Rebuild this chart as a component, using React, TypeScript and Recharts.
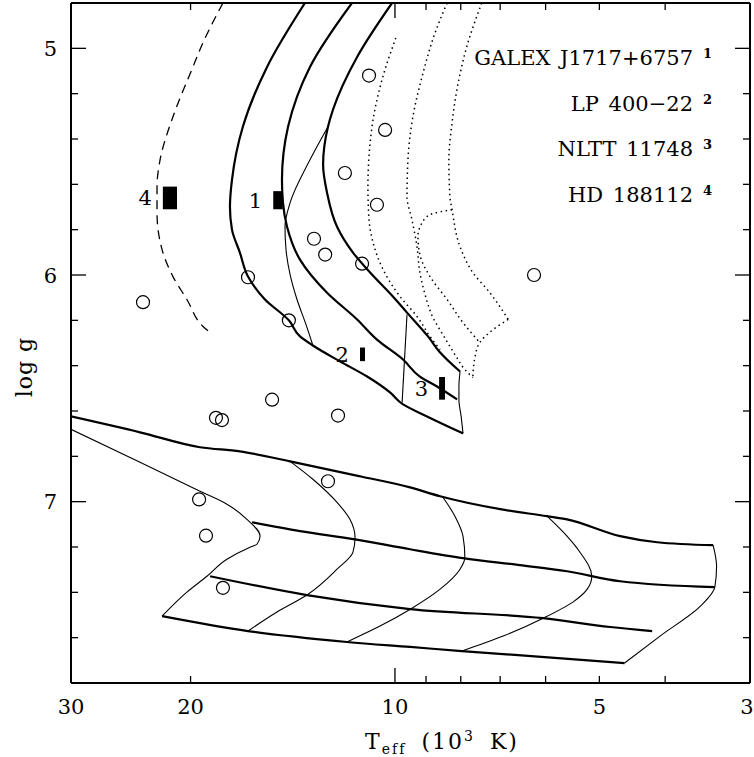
import React from 'react';
import { ComposedChart, Line, Scatter, XAxis, YAxis, ReferenceArea } from 'recharts';

type Pt = { t: number; g: number };

const font = "'DejaVu Serif', 'Liberation Serif', serif";

// upper group (Teff in 10^3 K, log g)
const dashedTrack: Pt[] = [
  { t: 17.92, g: 4.8 }, { t: 19.24, g: 4.985 }, { t: 19.84, g: 5.082 }, { t: 21.23, g: 5.302 },
  { t: 22.18, g: 5.492 }, { t: 22.41, g: 5.611 }, { t: 22.41, g: 5.725 }, { t: 22.03, g: 5.888 },
  { t: 21.23, g: 6.007 }, { t: 20.25, g: 6.108 }, { t: 19.17, g: 6.227 }, { t: 18.72, g: 6.254 }
];
const trackB: Pt[] = [
  { t: 13.57, g: 4.8 }, { t: 15.43, g: 5.082 }, { t: 16.75, g: 5.346 }, { t: 17.38, g: 5.58 },
  { t: 17.5, g: 5.699 }, { t: 17.38, g: 5.8 }, { t: 16.92, g: 5.901 }, { t: 16.46, g: 6.007 },
  { t: 15.54, g: 6.108 }, { t: 14.32, g: 6.201 }, { t: 13.8, g: 6.271 }, { t: 13.21, g: 6.311 },
  { t: 12.05, g: 6.381 }, { t: 10.99, g: 6.448 }, { t: 10.17, g: 6.518 }, { t: 9.73, g: 6.571 },
  { t: 8.97, g: 6.624 }, { t: 7.94, g: 6.699 }
];
const trackC: Pt[] = [
  { t: 11.57, g: 4.8 }, { t: 13.34, g: 5.082 }, { t: 14.37, g: 5.346 }, { t: 14.67, g: 5.58 },
  { t: 14.62, g: 5.681 }, { t: 14.42, g: 5.787 }, { t: 13.8, g: 5.932 }, { t: 12.59, g: 6.078 },
  { t: 11.37, g: 6.196 }, { t: 10.63, g: 6.285 }, { t: 9.73, g: 6.373 }, { t: 9.19, g: 6.448 },
  { t: 8.67, g: 6.492 }, { t: 8.1, g: 6.549 }
];
const trackD: Pt[] = [
  { t: 10.1, g: 4.8 }, { t: 11.37, g: 5.038 }, { t: 12.34, g: 5.271 }, { t: 12.55, g: 5.346 },
  { t: 12.76, g: 5.514 }, { t: 12.59, g: 5.637 }, { t: 12.17, g: 5.787 }, { t: 11.53, g: 5.901 },
  { t: 10.88, g: 5.989 }, { t: 10.07, g: 6.095 }, { t: 9.6, g: 6.166 }, { t: 8.94, g: 6.271 },
  { t: 8.58, g: 6.342 }, { t: 8.02, g: 6.426 }
];
const edgeUpper: Pt[] = [
  { t: 8.02, g: 6.426 }, { t: 8.05, g: 6.492 }, { t: 8.05, g: 6.549 }, { t: 7.99, g: 6.624 }, { t: 7.94, g: 6.699 }
];
const isoUpper1: Pt[] = [
  { t: 12.55, g: 5.346 }, { t: 13.34, g: 5.492 }, { t: 14.27, g: 5.681 }, { t: 14.52, g: 5.787 },
  { t: 14.47, g: 5.888 }, { t: 14.27, g: 5.998 }, { t: 13.94, g: 6.108 }, { t: 13.52, g: 6.219 },
  { t: 13.21, g: 6.311 }
];
const isoUpper2: Pt[] = [{ t: 9.6, g: 6.174 }, { t: 9.76, g: 6.562 }];

const dotted1: Pt[] = [
  { t: 9.97, g: 4.954 }, { t: 10.45, g: 5.139 }, { t: 10.81, g: 5.346 }, { t: 10.96, g: 5.611 },
  { t: 10.92, g: 5.756 }, { t: 10.77, g: 5.857 }, { t: 10.41, g: 5.976 }, { t: 9.83, g: 6.095 },
  { t: 9.28, g: 6.183 }, { t: 8.88, g: 6.271 }, { t: 8.58, g: 6.329 }
];
const dotted2: Pt[] = [
  { t: 8.38, g: 4.8 }, { t: 8.73, g: 4.932 }, { t: 9.09, g: 5.108 }, { t: 9.41, g: 5.302 },
  { t: 9.57, g: 5.492 }, { t: 9.6, g: 5.655 }, { t: 9.44, g: 5.756 }, { t: 9.28, g: 5.875 },
  { t: 9.19, g: 5.989 }, { t: 9.03, g: 6.086 }, { t: 8.79, g: 6.188 }, { t: 8.5, g: 6.263 },
  { t: 8.16, g: 6.351 }, { t: 7.89, g: 6.417 }, { t: 7.68, g: 6.452 }
];
const dotted3: Pt[] = [
  { t: 7.45, g: 4.8 }, { t: 7.81, g: 4.976 }, { t: 8.07, g: 5.152 }, { t: 8.24, g: 5.329 },
  { t: 8.33, g: 5.492 }, { t: 8.3, g: 5.655 }, { t: 8.24, g: 5.712 }, { t: 8.02, g: 5.875 },
  { t: 7.68, g: 5.989 }, { t: 7.25, g: 6.078 }, { t: 6.81, g: 6.196 }
];
const dottedEdge: Pt[] = [
  { t: 6.81, g: 6.196 }, { t: 7.17, g: 6.241 }, { t: 7.5, g: 6.298 }, { t: 7.62, g: 6.359 }, { t: 7.68, g: 6.452 }
];
const dottedIso: Pt[] = [
  { t: 8.24, g: 5.712 }, { t: 8.58, g: 5.721 }, { t: 8.88, g: 5.734 }, { t: 9.12, g: 5.769 },
  { t: 9.25, g: 5.831 }, { t: 9.19, g: 5.91 }, { t: 8.88, g: 6.007 }, { t: 8.38, g: 6.108 },
  { t: 7.94, g: 6.21 }, { t: 7.5, g: 6.298 }
];

// lower group
const lowTrack1: Pt[] = [
  { t: 30, g: 6.624 }, { t: 23.74, g: 6.694 }, { t: 19.37, g: 6.76 }, { t: 16.92, g: 6.778 },
  { t: 14.27, g: 6.822 }, { t: 11.26, g: 6.888 }, { t: 9.5, g: 6.937 }, { t: 8.58, g: 6.976 },
  { t: 7.0, g: 7.033 }, { t: 5.97, g: 7.064 }, { t: 5.58, g: 7.078 }, { t: 4.66, g: 7.152 },
  { t: 4.11, g: 7.179 }, { t: 3.4, g: 7.192 }
];
const lowTrack2: Pt[] = [
  { t: 16.24, g: 7.091 }, { t: 13.8, g: 7.13 }, { t: 11.45, g: 7.166 }, { t: 9.5, g: 7.21 },
  { t: 7.94, g: 7.249 }, { t: 6.55, g: 7.28 }, { t: 5.58, g: 7.307 }, { t: 4.66, g: 7.351 }, { t: 3.38, g: 7.377 }
];
const lowTrack3: Pt[] = [
  { t: 18.72, g: 7.329 }, { t: 13.48, g: 7.412 }, { t: 9.5, g: 7.474 }, { t: 6.05, g: 7.514 },
  { t: 4.82, g: 7.553 }, { t: 4.18, g: 7.571 }
];
const lowTrack4: Pt[] = [
  { t: 22.03, g: 7.505 }, { t: 16.46, g: 7.571 }, { t: 11.77, g: 7.619 }, { t: 9.5, g: 7.641 },
  { t: 7.97, g: 7.659 }, { t: 4.59, g: 7.712 }
];
const lowEdge: Pt[] = [
  { t: 3.4, g: 7.192 }, { t: 3.36, g: 7.285 }, { t: 3.38, g: 7.377 }, { t: 3.55, g: 7.461 },
  { t: 4.07, g: 7.593 }, { t: 4.59, g: 7.712 }
];
const lowIsoA: Pt[] = [
  { t: 30, g: 6.681 }, { t: 23.74, g: 6.826 }, { t: 19.37, g: 6.954 }, { t: 17.68, g: 7.011 },
  { t: 16.52, g: 7.078 }, { t: 15.8, g: 7.152 }, { t: 15.97, g: 7.188 }, { t: 16.35, g: 7.201 },
  { t: 17.68, g: 7.254 }, { t: 18.92, g: 7.329 }, { t: 20.25, g: 7.399 }, { t: 22.03, g: 7.505 }
];
const lowIsoB: Pt[] = [
  { t: 14.27, g: 6.822 }, { t: 13.21, g: 6.901 }, { t: 12.17, g: 7.003 }, { t: 11.65, g: 7.078 },
  { t: 11.45, g: 7.157 }, { t: 11.53, g: 7.223 }, { t: 12.17, g: 7.298 }, { t: 13.48, g: 7.412 },
  { t: 14.92, g: 7.487 }, { t: 16.46, g: 7.571 }
];
const lowIsoC: Pt[] = [
  { t: 8.52, g: 6.976 }, { t: 8.16, g: 7.064 }, { t: 7.94, g: 7.152 }, { t: 7.89, g: 7.245 },
  { t: 8.02, g: 7.298 }, { t: 8.58, g: 7.386 }, { t: 9.44, g: 7.47 }, { t: 10.52, g: 7.549 }, { t: 11.77, g: 7.619 }
];
const lowIsoD: Pt[] = [
  { t: 5.97, g: 7.064 }, { t: 5.58, g: 7.152 }, { t: 5.34, g: 7.223 }, { t: 5.13, g: 7.329 },
  { t: 5.21, g: 7.386 }, { t: 5.47, g: 7.443 }, { t: 6.05, g: 7.514 }, { t: 6.93, g: 7.593 }, { t: 7.97, g: 7.659 }
];

// open circles
const stars: Pt[] = [
  { t: 23.5, g: 6.12 }, { t: 16.46, g: 6.01 }, { t: 14.33, g: 6.2 }, { t: 10.92, g: 5.12 },
  { t: 10.34, g: 5.36 }, { t: 11.85, g: 5.55 }, { t: 10.63, g: 5.69 }, { t: 13.16, g: 5.84 },
  { t: 12.67, g: 5.91 }, { t: 11.18, g: 5.95 }, { t: 12.13, g: 6.62 }, { t: 18.35, g: 6.63 },
  { t: 17.98, g: 6.64 }, { t: 15.17, g: 6.55 }, { t: 12.55, g: 6.91 }, { t: 19.43, g: 6.99 },
  { t: 18.98, g: 7.15 }, { t: 17.92, g: 7.38 }, { t: 6.24, g: 6.0 }
];

// error boxes of the four objects
const boxLabels = ['1', '2', '3', '4'];
const boxTeffLo = [14.63, 11.07, 8.44, 20.94];
const boxTeffHi = [15.11, 11.26, 8.61, 21.97];
const boxLoggLo = [5.63, 6.32, 6.45, 5.61];
const boxLoggHi = [5.71, 6.38, 6.55, 5.71];
const objectNames = ['GALEX J1717+6757', 'LP 400\u221222', 'NLTT 11748', 'HD 188112'];

const xTicks = [30, 20, 10, 9, 8, 7, 6, 5, 4, 3];
const xTickLabels = [30, 20, 10, 5, 3];
const yTicks = [5, 5.2, 5.4, 5.6, 5.8, 6, 6.2, 6.4, 6.6, 6.8, 7, 7.2, 7.4, 7.6];
const yTickLabels = [5, 6, 7];

const axisStyle = { stroke: '#000', strokeWidth: 2 };

function BottomTick(props: any) {
  const { x, y, payload } = props;
  const v = payload.value;
  const len = v === 10 ? 15 : 7;
  // the last label sits at the frame edge, keep it inside the picture
  const edge = v === 3;
  return (
    <g>
      {v !== 30 && v !== 3 ? <line x1={x} y1={y} x2={x} y2={y - len} stroke="#000" strokeWidth={1.3} /> : null}
      {xTickLabels.includes(v) ? (
        <text x={edge ? x + 3.5 : x} y={y + 31} textAnchor={edge ? 'end' : 'middle'} fontFamily={font} fontSize={21} fill="#000">{v}</text>
      ) : null}
    </g>
  );
}

function TopTick(props: any) {
  const { x, y, payload } = props;
  const v = payload.value;
  if (v === 30 || v === 3) return <g />;
  const len = v === 10 ? 15 : 7;
  return <line x1={x} y1={y} x2={x} y2={y + len} stroke="#000" strokeWidth={1.3} />;
}

function LeftTick(props: any) {
  const { x, y, payload } = props;
  const v = payload.value;
  const major = yTickLabels.includes(v);
  return (
    <g>
      <line x1={x} y1={y} x2={x + (major ? 15 : 7)} y2={y} stroke="#000" strokeWidth={1.3} />
      {major ? (
        <text x={x - 14} y={y + 7.5} textAnchor="end" fontFamily={font} fontSize={21} fill="#000">{v}</text>
      ) : null}
    </g>
  );
}

function RightTick(props: any) {
  const { x, y, payload } = props;
  const major = yTickLabels.includes(payload.value);
  return <line x1={x} y1={y} x2={x - (major ? 15 : 7)} y2={y} stroke="#000" strokeWidth={1.3} />;
}

const curve = (name: string, data: Pt[], width: number, type: any, dash?: string) => (
  <Line
    key={name}
    data={data}
    dataKey="g"
    type={type}
    stroke="#000"
    strokeWidth={width}
    strokeDasharray={dash}
    dot={false}
    activeDot={false}
    legendType="none"
    isAnimationActive={false}
  />
);

const THICK = 2.2;
const THIN = 1.1;
const DOTS = '1.5 3.5';

export default function App(): React.ReactElement {
  return (
    <div style={{ position: 'absolute', left: 0, top: 0, width: 754, height: 757, background: '#fff', fontFamily: font, color: '#000' }}>
      {/* top/right axes get a few px of room: zero-sized axes are not drawn */}
      <ComposedChart width={754} height={757} margin={{ top: 0, right: 0, bottom: 0, left: 0 }}>
        <XAxis
          dataKey="t" type="number" scale="log" domain={[3, 30]} reversed allowDataOverflow
          ticks={xTicks} interval={0} height={74} tickSize={0} tickMargin={0} tickLine={false}
          axisLine={axisStyle} tick={(p: any) => <BottomTick {...p} />}
        />
        <XAxis
          xAxisId="top" orientation="top" dataKey="t" type="number" scale="log" domain={[3, 30]} reversed allowDataOverflow
          ticks={xTicks} interval={0} height={3} tickSize={0} tickMargin={0} tickLine={false}
          axisLine={axisStyle} tick={(p: any) => <TopTick {...p} />}
        />
        <YAxis
          type="number" domain={[4.8, 7.8]} reversed allowDataOverflow ticks={yTicks} interval={0}
          width={71} tickSize={0} tickMargin={0} tickLine={false} axisLine={axisStyle}
          tick={(p: any) => <LeftTick {...p} />}
        />
        <YAxis
          yAxisId="right" orientation="right" type="number" domain={[4.8, 7.8]} reversed allowDataOverflow
          ticks={yTicks} interval={0} width={4} tickSize={0} tickMargin={0} tickLine={false}
          axisLine={axisStyle} tick={(p: any) => <RightTick {...p} />}
        />

        {curve('dashed', dashedTrack, 1.3, 'monotoneY', '9 6')}
        {curve('B', trackB, THICK, 'monotoneY')}
        {curve('C', trackC, THICK, 'monotoneY')}
        {curve('D', trackD, THICK, 'monotoneY')}
        {curve('edgeU', edgeUpper, THIN, 'monotoneY')}
        {curve('iso1', isoUpper1, THIN, 'monotoneY')}
        {curve('iso2', isoUpper2, THIN, 'linear')}
        {curve('dot1', dotted1, 1.5, 'monotoneY', DOTS)}
        {curve('dot2', dotted2, 1.5, 'monotoneY', DOTS)}
        {curve('dot3', dotted3, 1.5, 'monotoneY', DOTS)}
        {curve('dotE', dottedEdge, 1.5, 'monotoneY', DOTS)}
        {curve('dotI', dottedIso, 1.5, 'monotoneY', DOTS)}

        {curve('L1', lowTrack1, THICK, 'monotoneX')}
        {curve('L2', lowTrack2, THICK, 'monotoneX')}
        {curve('L3', lowTrack3, THICK, 'monotoneX')}
        {curve('L4', lowTrack4, THICK, 'monotoneX')}
        {curve('LE', lowEdge, THIN, 'monotoneY')}
        {curve('LA', lowIsoA, THIN, 'monotoneY')}
        {curve('LB', lowIsoB, THIN, 'monotoneY')}
        {curve('LC', lowIsoC, THIN, 'monotoneY')}
        {curve('LD', lowIsoD, THIN, 'monotoneY')}

        <Scatter
          data={stars}
          dataKey="g"
          xAxisId="top"
          yAxisId="right"
          isAnimationActive={false}
          shape={(p: any) => <circle cx={p.cx} cy={p.cy} r={6.5} fill="none" stroke="#000" strokeWidth={1.2} />}
        />

        {boxLabels.map((lab, i) => (
          <ReferenceArea
            key={lab}
            x1={boxTeffLo[i]}
            x2={boxTeffHi[i]}
            y1={boxLoggLo[i]}
            y2={boxLoggHi[i]}
            fill="#000"
            fillOpacity={1}
            stroke="none"
            ifOverflow="visible"
            label={{ value: lab, position: 'left', offset: 11, fontSize: 21, fontFamily: font, fill: '#000' }}
          />
        ))}
      </ComposedChart>

      {objectNames.map((name, i) => (
        <React.Fragment key={name}>
          <div style={{ position: 'absolute', right: 61, top: 48 + i * 45.5, fontSize: 21, lineHeight: '21px', whiteSpace: 'nowrap', wordSpacing: 3 }}>
            {name}
          </div>
          <div style={{ position: 'absolute', left: 703, top: 47 + i * 45.5, fontSize: 13, lineHeight: '13px', fontWeight: 'bold' }}>
            {boxLabels[i]}
          </div>
        </React.Fragment>
      ))}

      <div style={{ position: 'absolute', left: 292, width: 300, top: 731, textAlign: 'center', fontSize: 22, lineHeight: '22px', whiteSpace: 'nowrap', letterSpacing: 2, wordSpacing: 6 }}>
        T<span style={{ fontSize: 14, position: 'relative', top: 5 }}>eff</span> (10<span style={{ fontSize: 14, position: 'relative', top: -8 }}>3</span> K)
      </div>
      <div style={{ position: 'absolute', left: -15, top: 356, width: 80, height: 22, textAlign: 'center', fontSize: 22, lineHeight: '22px', transform: 'rotate(-90deg)', whiteSpace: 'nowrap', letterSpacing: 1 }}>
        log g
      </div>
    </div>
  );
}
